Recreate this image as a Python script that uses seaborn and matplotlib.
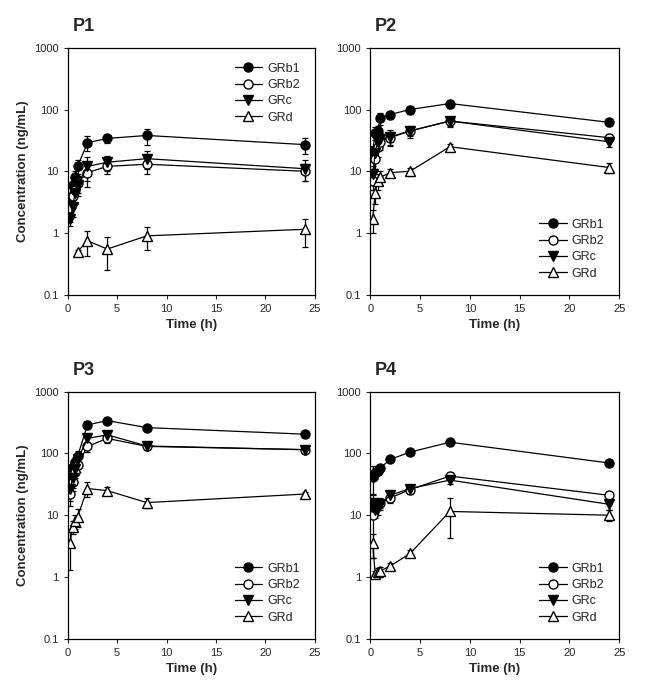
import numpy as np
import matplotlib
matplotlib.use("Agg")
import matplotlib.pyplot as plt
import seaborn as sns

# sampling times (h)
time_h = [0.25, 0.5, 0.75, 1, 2, 4, 8, 24]
compounds = ["GRb1", "GRb2", "GRc", "GRd"]
panel_names = ["P1", "P2", "P3", "P4"]

# mean concentrations (ng/mL), nan = not detected
p1_grb1 = [3.8, 6.0, 8.0, 12, 29, 34, 38, 27]
p1_grb2 = [2.5, 4.0, 5.0, 6.5, 9.5, 12, 13, 10]
p1_grc = [1.7, 2.6, 4.5, 6.0, 12, 14, 16, 11]
p1_grd = [np.nan, np.nan, np.nan, 0.5, 0.75, 0.55, 0.9, 1.15]

p2_grb1 = [21, 42, 45, 72, 83, 100, 125, 62]
p2_grb2 = [7, 16, 25, 30, 35, 45, 65, 35]
p2_grc = [9, 20, 30, 33, 36, 45, 65, 30]
p2_grd = [1.7, 4.5, 7, 8, 9.5, 10, 25, 11.5]

p3_grb1 = [42, 60, 72, 90, 290, 340, 262, 205]
p3_grb2 = [22, 35, 50, 65, 130, 175, 130, 115]
p3_grc = [27, 40, 55, 80, 175, 200, 132, 115]
p3_grd = [3.6, 6.5, 8.0, 9.5, 27, 25, 16, 22]

p4_grb1 = [42, 48, 52, 58, 80, 105, 152, 70]
p4_grb2 = [10, 13, 15, 16, 19, 26, 43, 21]
p4_grc = [16, 12, 13, 15, 21, 27, 37, 15]
p4_grd = [3.5, 1.1, 1.2, 1.25, 1.5, 2.4, 11.5, 10]

# standard deviations
p1_grb1_sd = [1.5, 2, 2, 3, 8, 5, 11, 8]
p1_grb2_sd = [1, 1.5, 2, 2, 4, 3, 4, 3]
p1_grc_sd = [0.4, 0.8, 1.5, 2, 5, 4, 5, 4]
p1_grd_sd = [np.nan, np.nan, np.nan, 0.03, 0.32, 0.3, 0.37, 0.55]

p2_grb1_sd = [5, 10, 10, 15, 12, 15, 20, 8]
p2_grb2_sd = [2, 5, 8, 8, 8, 8, 10, 5]
p2_grc_sd = [3, 5, 8, 8, 10, 10, 12, 5]
p2_grd_sd = [0.7, 1.5, 2, 2, 1.5, 1.5, 3, 2]

p3_grb1_sd = [10, 15, 15, 20, 40, 40, 30, 20]
p3_grb2_sd = [8, 10, 15, 15, 25, 25, 15, 10]
p3_grc_sd = [10, 12, 15, 20, 30, 30, 20, 12]
p3_grd_sd = [2.3, 1.5, 2, 3, 7, 4, 3, 2]

p4_grb1_sd = [20, 10, 8, 8, 8, 10, 15, 8]
p4_grb2_sd = [8, 3, 3, 3, 3, 4, 5, 3]
p4_grc_sd = [5, 3, 3, 3, 3, 4, 5, 3]
p4_grd_sd = [1.5, 0.15, 0.2, 0.2, 0.2, 0.3, 7.3, 2]

means = [
    [p1_grb1, p1_grb2, p1_grc, p1_grd],
    [p2_grb1, p2_grb2, p2_grc, p2_grd],
    [p3_grb1, p3_grb2, p3_grc, p3_grd],
    [p4_grb1, p4_grb2, p4_grc, p4_grd],
]
sds = [
    [p1_grb1_sd, p1_grb2_sd, p1_grc_sd, p1_grd_sd],
    [p2_grb1_sd, p2_grb2_sd, p2_grc_sd, p2_grd_sd],
    [p3_grb1_sd, p3_grb2_sd, p3_grc_sd, p3_grd_sd],
    [p4_grb1_sd, p4_grb2_sd, p4_grc_sd, p4_grd_sd],
]

marker_styles = {"GRb1": ("o", "black"), "GRb2": ("o", "white"),
                 "GRc": ("v", "black"), "GRd": ("^", "white")}
legend_loc = ["upper right", "lower right", "lower right", "lower right"]

sns.set_style("ticks")
plt.rcParams["font.family"] = ["Liberation Sans", "DejaVu Sans"]

fig = plt.figure(figsize=(6.45, 6.92), dpi=100)
positions = [
    [0.105, 0.574, 0.383, 0.357],
    [0.574, 0.574, 0.386, 0.357],
    [0.105, 0.077, 0.383, 0.357],
    [0.574, 0.077, 0.386, 0.357],
]

for i, name in enumerate(panel_names):
    ax = fig.add_axes(positions[i])
    for j, comp in enumerate(compounds):
        y = np.array(means[i][j], dtype=float)
        sd = np.array(sds[i][j], dtype=float)
        t = np.array(time_h)
        ok = ~np.isnan(y)
        lower = np.minimum(sd[ok], y[ok] * 0.95)
        ax.errorbar(t[ok], y[ok], yerr=[lower, sd[ok]], fmt="none",
                    ecolor="black", elinewidth=0.9, capsize=2.5,
                    capthick=0.9, zorder=1)
        mk, face = marker_styles[comp]
        sns.lineplot(x=t[ok], y=y[ok], ax=ax, color="black", linewidth=0.9,
                     marker=mk, markersize=6.5, markerfacecolor=face,
                     markeredgecolor="black", markeredgewidth=1.0,
                     label=comp, zorder=2)
    ax.set_yscale("log")
    ax.set_ylim(0.1, 1000)
    ax.set_xlim(0, 25)
    ax.set_yticks([0.1, 1, 10, 100, 1000], labels=["0.1", "1", "10", "100", "1000"])
    ax.set_xticks([0, 5, 10, 15, 20, 25])
    ax.minorticks_off()
    ax.tick_params(labelsize=8, length=3, width=0.8, direction="out")
    for sp in ax.spines.values():
        sp.set_linewidth(0.9)
        sp.set_color("black")
    ax.set_xlabel("Time (h)", fontsize=9.5, fontweight="bold")
    if i % 2 == 0:
        ax.set_ylabel("Concentration (ng/mL)", fontsize=9.5, fontweight="bold")
    else:
        ax.set_ylabel("")
    ax.text(0.02, 1.05, name, transform=ax.transAxes, fontsize=13,
            fontweight="bold", ha="left", va="bottom")
    ax.legend(loc=legend_loc[i], frameon=False, fontsize=9, handlelength=2.2,
              handletextpad=0.4, labelspacing=0.35, borderaxespad=0.8)

plt.savefig("out.png", dpi=100)
plt.close()
